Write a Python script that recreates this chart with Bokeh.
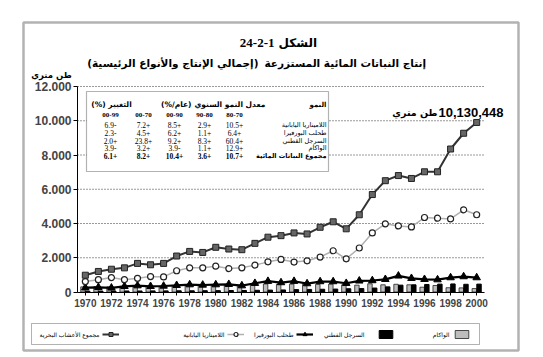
from bokeh.plotting import figure
from bokeh.models import (ColumnDataSource, Label, BoxAnnotation, Legend, LegendItem,
                          FixedTicker, Range1d)
from bokeh.transform import dodge
from bokeh.embed import file_html
from bokeh.resources import INLINE

# ---------------- data ----------------
years = list(range(1970, 2001))
total = [980, 1200, 1330, 1410, 1670, 1590, 1670, 2100, 2370, 2310, 2610, 2510, 2470, 2840,
         3200, 3290, 3450, 3390, 3780, 4100, 3690, 4510, 5690, 6500, 6800, 6630, 7020, 7020,
         8350, 9270, 9900]
laminaria = [610, 720, 840, 720, 800, 900, 880, 1240, 1410, 1410, 1510, 1370, 1410, 1570,
             1760, 1900, 1750, 1820, 2040, 2410, 1940, 2570, 3450, 3980, 3860, 3800, 4350,
             4310, 4270, 4800, 4510]
porphyra = [250, 270, 240, 330, 370, 330, 350, 390, 430, 410, 430, 450, 370, 510, 630, 550,
            630, 490, 610, 610, 510, 650, 670, 740, 940, 800, 740, 720, 840, 900, 840]
wakame = [300, 310, 300, 330, 340, 330, 340, 350, 370, 360, 380, 390, 370, 420, 470, 450,
          460, 440, 450, 460, 420, 400, 480, 420, 450, 420, 280, 380, 250, 240, 200]
cottonii = [50, 55, 55, 60, 60, 65, 65, 70, 70, 75, 80, 85, 90, 100, 110, 120, 140, 150, 160,
            170, 190, 200, 230, 300, 400, 420, 440, 460, 470, 450, 460]

series_names = ["مجموع الأعشاب البحرية", "اللاميناريا اليابانية", "طحلب البورفيرا",
                "السرجل القطني", "الواكام"]

y_ticks = [0, 2000, 4000, 6000, 8000, 10000, 12000]
y_tick_labels = ["0", "2.000", "4.000", "6.000", "8.000", "10.000", "12.000"]
x_label_years = list(range(1970, 2001, 2))

# inset table
table_rows = ["اللاميناريا اليابانية", "طحلب البورفيرا", "السرجل القطني", "الواكام",
              "مجموع النباتات المائية"]
table_periods = ["00-99", "00-70", "00-90", "90-80", "80-70"]
table_values = [
    ["6.9-", "7.2+", "8.5+", "2.9+", "10.5+"],
    ["2.3-", "4.5+", "6.2+", "1.1+", "6.4+"],
    ["2.0+", "23.8+", "9.2+", "8.3+", "60.4+"],
    ["3.9-", "3.2+", "3.9-", "1.1+", "12.9+"],
    ["6.1+", "8.2+", "10.4+", "3.6+", "10.7+"],
]
total_2000_label = "10,130,448"

ARAB = "DejaVu Sans"
NUM = "Liberation Sans"
SERIF = "Liberation Serif"

# ---------------- layout (page px, origin top-left) ----------------
W, H = 540, 355
PX0, PX1 = 77, 484          # plot area left/right
PY0, PY1 = 86, 291.5        # plot area top/bottom
XMIN, XMAX = 1969.4, 2000.6
YMIN, YMAX = 0, 12000
ppx = (PX1 - PX0) / (XMAX - XMIN)
ppy = (PY1 - PY0) / (YMAX - YMIN)
x_range = Range1d(XMIN - PX0 / ppx, XMAX + (W - PX1) / ppx)
y_range = Range1d(YMIN - (H - PY1) / ppy, YMAX + PY0 / ppy)

p = figure(width=W, height=H, x_range=x_range, y_range=y_range,
           output_backend="svg", toolbar_location=None,
           min_border=0, min_border_left=0, min_border_right=0,
           min_border_top=0, min_border_bottom=0)
p.outline_line_color = None
p.background_fill_color = "white"
p.border_fill_color = "white"
p.grid.visible = False

p.yaxis.fixed_location = XMIN
p.yaxis.bounds = (YMIN, YMAX)
p.yaxis.ticker = FixedTicker(ticks=y_ticks)
p.yaxis.major_label_overrides = dict(zip(y_ticks, y_tick_labels))
p.yaxis.major_label_text_font = NUM
p.yaxis.major_label_text_font_style = "bold"
p.yaxis.major_label_text_font_size = "12px"
p.yaxis.major_tick_out = 4
p.yaxis.major_tick_in = 0
p.yaxis.minor_tick_line_color = None
p.yaxis.major_label_standoff = 2
p.yaxis.axis_line_color = "black"

p.xaxis.fixed_location = YMIN
p.xaxis.bounds = (XMIN, XMAX)
p.xaxis.ticker = FixedTicker(ticks=years)
p.xaxis.major_label_overrides = {yr: (str(yr) if yr in x_label_years else "") for yr in years}
p.xaxis.major_label_text_font = NUM
p.xaxis.major_label_text_font_style = "bold"
p.xaxis.major_label_text_font_size = "10px"
p.xaxis.major_tick_out = 3
p.xaxis.major_tick_in = 0
p.xaxis.minor_tick_line_color = None
p.xaxis.major_label_standoff = 4
p.xaxis.axis_line_color = "black"

# dotted horizontal grid lines, limited to the plot area
grid_y = y_ticks[1:]
p.segment(x0=[XMIN] * len(grid_y), x1=[XMAX] * len(grid_y), y0=grid_y, y1=grid_y,
          line_color="#333333", line_dash="1 2", line_width=1)

src = ColumnDataSource(dict(year=years, total=total, lam=laminaria, por=porphyra,
                            wak=wakame, cot=cottonii))

r_wak = p.vbar(x=dodge("year", -0.18), top="wak", width=0.34, source=src,
               fill_color="#bdbdbd", line_color="#222222", line_width=0.8)
r_cot = p.vbar(x=dodge("year", 0.18), top="cot", width=0.34, source=src,
               fill_color="black", line_color="black")
r_por_l = p.line("year", "por", source=src, line_color="black", line_width=2.2)
r_por_m = p.scatter("year", "por", source=src, marker="triangle", size=7.5,
                    fill_color="black", line_color="black")
r_lam_l = p.line("year", "lam", source=src, line_color="#b0b0b0", line_width=1.5)
r_lam_m = p.scatter("year", "lam", source=src, marker="circle", size=6,
                    fill_color="white", line_color="#222222", line_width=1.2)
r_tot_l = p.line("year", "total", source=src, line_color="#333333", line_width=2)
r_tot_m = p.scatter("year", "total", source=src, marker="square", size=6,
                    fill_color="#666666", line_color="#222222")


def lab(x, y, text, size, font=ARAB, style="normal", align="center"):
    # x, y in page pixels from the top-left corner
    p.add_layout(Label(x=x, y=H - y, x_units="screen", y_units="screen", text=text,
                       text_font=font, text_font_size=f"{size}px", text_font_style=style,
                       text_align=align, text_baseline="middle", text_color="black"))


def box(l, r, t, b, fill, lw):
    p.add_layout(BoxAnnotation(left=l, right=r, top=H - t, bottom=H - b,
                               left_units="screen", right_units="screen",
                               top_units="screen", bottom_units="screen",
                               fill_color=fill, fill_alpha=1 if fill else 0,
                               line_color="black", line_width=lw))


# outer frame
box(23, 518, 22, 350, None, 2.5)

# titles (Arabic and non-Arabic parts placed separately, right-to-left reading)
lab(274, 42, "24-2-1", 13, font=SERIF, style="bold", align="right")
lab(278, 42, "الشكل", 12, style="bold", align="left")
lab(258, 62, "(إجمالي الإنتاج والأنواع الرئيسية)", 10.5, style="bold", align="right")
lab(264, 62, "إنتاج النباتات المائية المستزرعة", 10.5, style="bold", align="left")
lab(51, 74, "طن متري", 8.5, style="bold")

# total label
lab(503, 112, total_2000_label, 13, font=NUM, style="bold", align="right")
lab(437, 112, "طن متري", 9.5, style="bold", align="right")

# inset table
box(86, 328, 91, 171, "white", 1.2)
lab(111, 104, "(%) التغيير", 7.5, style="bold")
lab(191, 104, "(%/عام)", 7.5, style="bold", align="right")
lab(194, 104, "معدل النمو السنوي", 7.5, style="bold", align="left")
lab(326, 104, "النمو", 7, style="bold", align="right")
col_x = [110, 143, 174, 204, 234]
for cx, per in zip(col_x, table_periods):
    lab(cx, 114, per, 7, font=SERIF, style="bold")
row_y = [124.7, 132.3, 140, 147.3, 155.7]
for i, (ry, name, vals) in enumerate(zip(row_y, table_rows, table_values)):
    st = "bold" if i == len(table_rows) - 1 else "normal"
    lab(326, ry, name, 6.5, style=st, align="right")
    for cx, v in zip(col_x, vals):
        lab(cx, ry, v, 7.5, font=SERIF, style=st)

# legend: framed box, swatches with their Arabic labels to the left (right-to-left)
box(31, 479, 323, 344, "white", 1)
legend_items = [
    (series_names[0], [r_tot_l, r_tot_m], 102, 99),
    (series_names[1], [r_lam_l, r_lam_m], 227, 224),
    (series_names[2], [r_por_l, r_por_m], 296, 293),
    (series_names[3], [r_cot], 377, 364),
    (series_names[4], [r_wak], 453, 449),
]
LEG_Y = 333.5
for name, rends, gx, tx in legend_items:
    lg = Legend(items=[LegendItem(label=" ", renderers=rends)], location=(gx, H - LEG_Y - 5),
                orientation="horizontal", border_line_color=None, background_fill_alpha=0,
                label_text_font_size="6px", glyph_width=17, glyph_height=10, padding=0,
                spacing=0, label_standoff=0, margin=0, label_height=10)
    p.add_layout(lg)
    lab(tx, LEG_Y, name, 6, align="right")

open("out.html", "w").write(file_html(p, INLINE))
